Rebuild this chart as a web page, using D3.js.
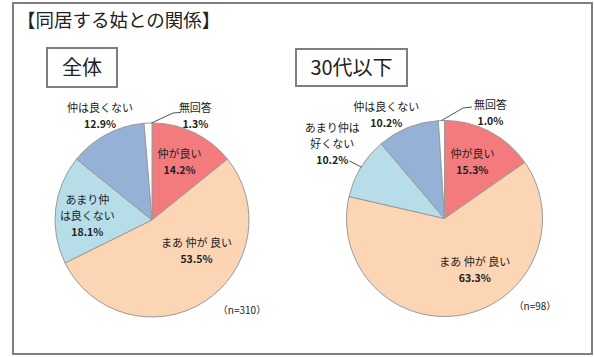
<!DOCTYPE html>
<html><head><meta charset="utf-8">
<script src="https://cdn.jsdelivr.net/npm/d3@7"></script>
<style>body{margin:0;background:#fff}svg{display:block}text{font-family:"Noto Sans CJK JP","Noto Sans",sans-serif;fill:#222}</style>
</head><body>
<svg id="c" width="594" height="357"></svg>
<script>
// ---- data ----
const title = "【同居する姑との関係】";
const categories = ["仲が良い", "まあ仲が良い", "あまり仲は良くない", "仲は良くない", "無回答"];
const colors = ["#F47B7D", "#FCD5B4", "#B7DEE8", "#95B1D6", "#FFFFFF"];
const panelTitles = ["全体", "30代以下"];
const valuesAll = [14.2, 53.5, 18.1, 12.9, 1.3];
const values30 = [15.3, 63.3, 10.2, 10.2, 1.0];
const nLabels = ["（n=310）", "（n=98）"];
const labelLinesAll = [["仲が良い"], ["まあ 仲が 良い"], ["あまり仲", "は良くない"], ["仲は良くない"], ["無回答"]];
const labelLines30 = [["仲が良い"], ["まあ 仲が 良い"], ["あまり仲は", "好くない"], ["仲は良くない"], ["無回答"]];

// ---- layout ----
const svg = d3.select("#c");
svg.append("rect").attr("x", 13).attr("y", 3).attr("width", 579).attr("height", 351)
  .attr("fill", "none").attr("stroke", "#7f7f7f").attr("stroke-width", 2);
svg.append("text").attr("x", 17).attr("y", 27).attr("font-size", 18.5).text(title);

const panels = [
  {values: valuesAll, lines: labelLinesAll, cx: 152, cy: 220, r: 97,
   box: {x: 47, y: 48, w: 70, h: 39}, n: nLabels[0], nPos: [242, 314],
   nudges: [[0, 0], [10, -23], [-1, 3], [-22, -47], [46, -40]],
   leaders: {4: [[-0.5, -97], [21, -107], [28, -107.5]]}},
  {values: values30, lines: labelLines30, cx: 444.5, cy: 218.5, r: 98,
   box: {x: 296, y: 49, w: 111, h: 37}, n: nLabels[1], nPos: [535, 310],
   nudges: [[-2, 1], [18, -12], [-57, -41], [-34, -44], [48, -41]],
   leaders: {4: [[-3, -98], [18.5, -110.5], [27.5, -111.5]], 2: [[-95, -57.5], [-82.8, -51.2]]}}
];

panels.forEach((p, pi) => {
  // title box
  svg.append("rect").attr("x", p.box.x).attr("y", p.box.y).attr("width", p.box.w).attr("height", p.box.h)
    .attr("fill", "#fff").attr("stroke", "#7f7f7f").attr("stroke-width", 2);
  svg.append("text").attr("x", p.box.x + p.box.w / 2).attr("y", p.box.y + p.box.h / 2 + 7)
    .attr("text-anchor", "middle").attr("font-size", 20).text(panelTitles[pi]);

  const g = svg.append("g").attr("transform", `translate(${p.cx},${p.cy})`);
  const pie = d3.pie().sort(null).value(d => d)(p.values);
  const arc = d3.arc().innerRadius(0).outerRadius(p.r);
  const labelArc = d3.arc().innerRadius(p.r * 0.66).outerRadius(p.r * 0.66);

  g.selectAll("path.s").data(pie).join("path").attr("class", "s")
    .attr("d", arc).attr("fill", (d, i) => colors[i])
    .attr("stroke", "#9a9a9a").attr("stroke-width", 1);

  // leader lines
  Object.entries(p.leaders).forEach(([k, pts]) => {
    g.append("path").attr("d", d3.line()(pts)).attr("fill", "none")
      .attr("stroke", "#555").attr("stroke-width", 1);
  });

  // labels
  pie.forEach((d, i) => {
    const c = labelArc.centroid(d);
    const x = c[0] + p.nudges[i][0], y = c[1] + p.nudges[i][1];
    const lines = p.lines[i].concat([d3.format(".1f")(d.data) + "%"]);
    const lh = 16;
    const y0 = y - (lines.length - 1) * lh / 2;
    const t = g.append("text").attr("text-anchor", "middle").attr("font-size", 11);
    lines.forEach((ln, j) => {
      t.append("tspan").attr("x", x).attr("y", y0 + j * lh + 4)
        .attr("font-weight", j === lines.length - 1 ? "bold" : "normal")
        .attr("font-size", j === lines.length - 1 ? 10.5 : 11)
        .text(ln);
    });
  });

  svg.append("text").attr("x", p.nPos[0]).attr("y", p.nPos[1]).attr("text-anchor", "middle")
    .attr("font-size", 10).text(p.n);
});
</script>
</body></html>
